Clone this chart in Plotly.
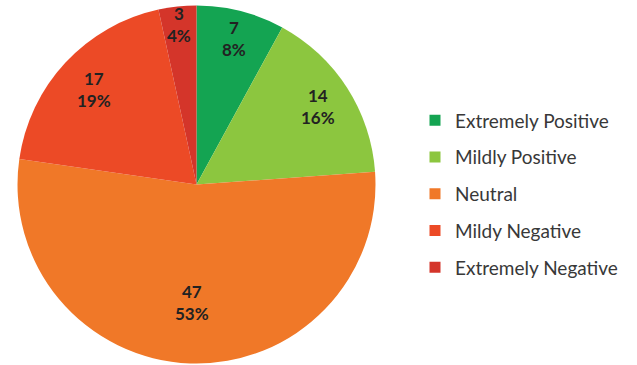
import math
import plotly.graph_objects as go

# Sentiment categories and respondent counts
categories = ["Extremely Positive", "Mildly Positive", "Neutral", "Mildy Negative", "Extremely Negative"]
counts = [7, 14, 47, 17, 3]
pct_labels = ["8%", "16%", "53%", "19%", "4%"]
colors = ["#14a452", "#8cc63f", "#f07828", "#ec4a26", "#d4352a"]

W, H = 637, 365

# Pie placement (pixels) and label distance from centre as a fraction of the radius
CX, CY, R = 196.5, 184.5, 179.0
label_radius = [0.84, 0.81, 0.66, 0.78, 0.90]

fig = go.Figure()

fig.add_trace(go.Pie(
    labels=categories,
    values=counts,
    textinfo="none",
    marker=dict(colors=colors, line=dict(width=0)),
    sort=False,
    direction="clockwise",
    rotation=0,
    showlegend=False,
    hoverinfo="label+value+percent",
    domain=dict(x=[(CX - R) / W, (CX + R) / W], y=[1 - (CY + R) / H, 1 - (CY - R) / H]),
))

# Data labels placed on each slice's bisector (clockwise from 12 o'clock)
total = sum(counts)
cum = 0
for v, pct, rf in zip(counts, pct_labels, label_radius):
    mid = (cum + v / 2) / total * 2 * math.pi
    cum += v
    px = CX + rf * R * math.sin(mid)
    py = CY - rf * R * math.cos(mid)
    fig.add_annotation(
        x=px / W, y=1 - py / H, xref="paper", yref="paper",
        text=f"<b>{v}<br>{pct}</b>", showarrow=False,
        font=dict(family="Lato", size=17, color="#222222"),
        xanchor="center", yanchor="middle", align="center",
    )

# Legend entries, one group each so the spacing between rows can be set
for name, col in zip(categories, colors):
    fig.add_trace(go.Scatter(
        x=[None], y=[None], mode="markers", name=name, legendgroup=name,
        marker=dict(symbol="square", size=11, color=col),
        showlegend=True, hoverinfo="skip",
    ))

fig.update_layout(
    width=W, height=H,
    margin=dict(l=0, r=0, t=0, b=0),
    paper_bgcolor="white",
    plot_bgcolor="white",
    xaxis=dict(visible=False),
    yaxis=dict(visible=False),
    legend=dict(
        x=415 / W, y=1 - 194 / H, xanchor="left", yanchor="middle",
        font=dict(family="Lato", size=19, color="#383838"),
        tracegroupgap=9,
        itemwidth=30,
        bgcolor="rgba(0,0,0,0)",
    ),
)

fig.write_html("out.html")
